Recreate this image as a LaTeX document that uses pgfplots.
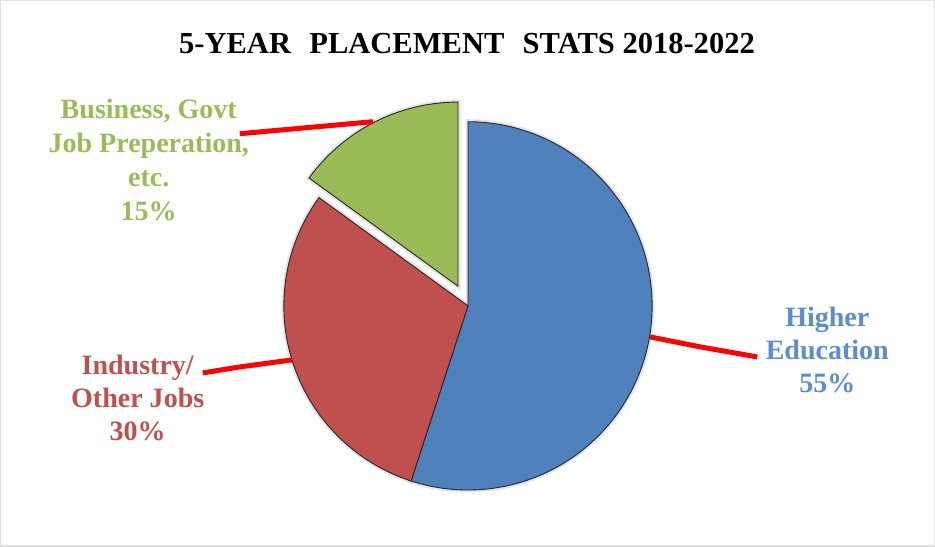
\documentclass[border=0pt]{standalone}
\usepackage{pgfplots}
\pgfplotsset{compat=1.18}
\usepackage{fontspec}
\setmainfont{Liberation Serif}
\definecolor{cblue}{HTML}{4F81BD}
\definecolor{cred}{HTML}{C0504D}
\definecolor{cgreen}{HTML}{9BBB59}
\definecolor{lblue}{HTML}{5B8DD0}
\begin{document}
\begin{tikzpicture}
% shares (percent)
\pgfmathsetmacro{\vA}{55}% Higher Education
\pgfmathsetmacro{\vB}{30}% Industry / Other Jobs
\pgfmathsetmacro{\vC}{15}% Business, Govt Job Preperation, etc.
\pgfmathsetmacro{\aA}{90}
\pgfmathsetmacro{\aB}{90-3.6*\vA}
\pgfmathsetmacro{\aC}{\aB-3.6*\vB}
\pgfmathsetmacro{\aD}{\aC-3.6*\vC}
\pgfmathsetmacro{\gx}{468+22*cos((\aC+\aD)/2)}
\pgfmathsetmacro{\gy}{241+22*sin((\aC+\aD)/2)}
\begin{axis}[
  width=935pt, height=547pt, scale only axis,
  xmin=0, xmax=935, ymin=0, ymax=547,
  axis lines=none, clip=false,
]
% border
\draw[black!12, line width=1.2pt] (axis cs:1,1) rectangle (axis cs:934,546);
% glow / shadow
\addplot[draw=black!25, line width=5pt, opacity=0.4, domain=\aB:\aA, samples=120, variable=\t]
  ({468+184*cos(t)},{241+184*sin(t)}) -- (axis cs:468,241) -- cycle;
\addplot[draw=black!25, line width=5pt, opacity=0.4, domain=\aC:\aB, samples=80, variable=\t]
  ({468+184*cos(t)},{241+184*sin(t)}) -- (axis cs:468,241) -- cycle;
\addplot[draw=black!25, line width=5pt, opacity=0.4, domain=\aD:\aC, samples=50, variable=\t]
  ({\gx+184*cos(t)},{\gy+184*sin(t)}) -- (axis cs:\gx,\gy) -- cycle;
% slices
\addplot[fill=cblue, draw=black!85, line width=0.9pt, domain=\aB:\aA, samples=120, variable=\t]
  ({468+184*cos(t)},{241+184*sin(t)}) -- (axis cs:468,241) -- cycle;
\addplot[fill=cred, draw=black!85, line width=0.9pt, domain=\aC:\aB, samples=80, variable=\t]
  ({468+184*cos(t)},{241+184*sin(t)}) -- (axis cs:468,241) -- cycle;
\addplot[fill=cgreen, draw=black!85, line width=0.9pt, domain=\aD:\aC, samples=50, variable=\t]
  ({\gx+184*cos(t)},{\gy+184*sin(t)}) -- (axis cs:\gx,\gy) -- cycle;
% leader lines
\addplot[red, line width=5pt, line cap=butt] coordinates {(650,210) (700,200) (757,190)};
\addplot[red, line width=5pt, line cap=butt] coordinates {(292,187) (240,180) (203,174)};
\addplot[red, line width=5pt, line cap=butt] coordinates {(373,425) (240,413)};
% labels
\node[font=\bfseries\fontsize{28}{33}\selectfont, text=lblue, align=center] at (axis cs:827,197) {Higher\\Education\\55\%};
\node[font=\bfseries\fontsize{28}{33}\selectfont, text=cred, align=center] at (axis cs:138,149) {Industry/\\Other Jobs\\30\%};
\node[font=\bfseries\fontsize{28}{34}\selectfont, text=cgreen, align=center] at (axis cs:149,387) {Business, Govt\\Job Preperation,\\etc.\\15\%};
% title
\node[font=\bfseries\fontsize{30.5}{34}\selectfont] at (axis cs:467,503) {5-YEAR\hspace{0.35em} PLACEMENT\hspace{0.35em} STATS 2018-2022};
\end{axis}
\end{tikzpicture}
\end{document}
